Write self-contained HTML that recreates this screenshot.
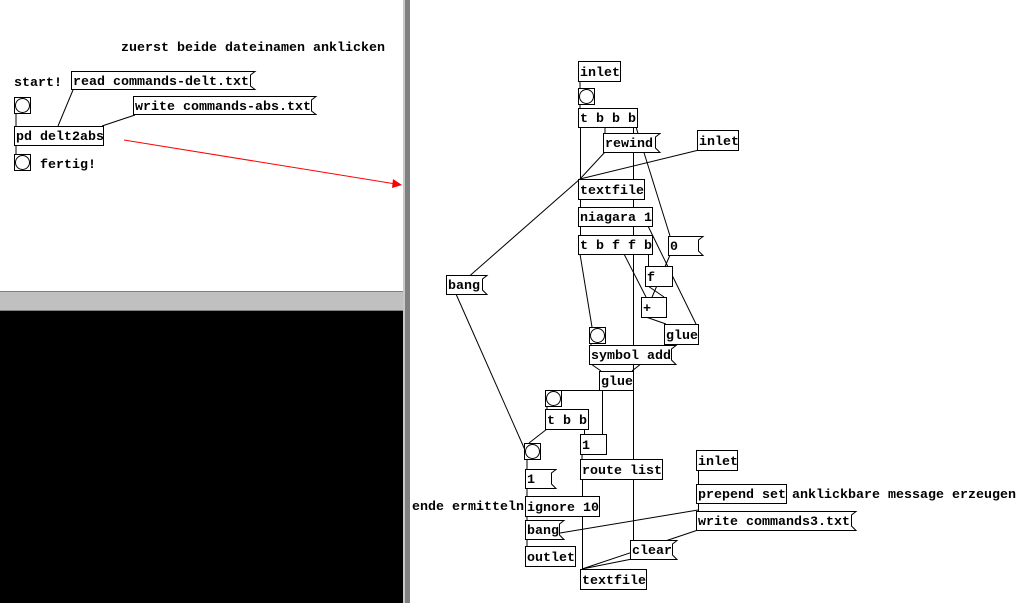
<!DOCTYPE html>
<html><head><meta charset="utf-8"><style>
html,body{margin:0;padding:0;background:#fff;}
svg{display:block;}
text{font-family:"Liberation Mono",monospace;font-weight:bold;font-size:13.33px;fill:#000;}
</style></head><body>
<svg width="1029" height="603" viewBox="0 0 1029 603" xmlns="http://www.w3.org/2000/svg">
<rect x="0" y="0" width="1029" height="603" fill="#fff"/>
<rect x="0" y="291" width="404" height="20" fill="#c0c0c0"/>
<line x1="0" y1="291.5" x2="404" y2="291.5" stroke="#808080"/>
<line x1="0" y1="310.5" x2="404" y2="310.5" stroke="#808080"/>
<rect x="0" y="311" width="404" height="292" fill="#000"/>
<rect x="403" y="0" width="2" height="603" fill="#c8c8c8"/>
<rect x="405" y="0" width="5" height="603" fill="#808080"/>

<g stroke="#000" stroke-width="1" fill="none">
<line x1="16" y1="113" x2="16" y2="126"/>
<line x1="73" y1="90" x2="58" y2="126"/>
<line x1="135" y1="115" x2="102" y2="126"/>
<line x1="16" y1="145" x2="16" y2="154"/>
<line x1="580" y1="81" x2="580" y2="88"/>
<line x1="580" y1="104" x2="580" y2="108"/>
<line x1="580.5" y1="127" x2="580.5" y2="179"/>
<line x1="605" y1="127" x2="605" y2="133"/>
<line x1="633.5" y1="127" x2="633.5" y2="540"/>
<line x1="636" y1="127" x2="670" y2="236"/>
<line x1="605" y1="152" x2="580" y2="179"/>
<line x1="699" y1="150" x2="580" y2="179"/>
<line x1="580" y1="179" x2="449" y2="294"/>
<line x1="580.5" y1="199" x2="580.5" y2="207"/>
<line x1="580.5" y1="226" x2="580.5" y2="235"/>
<line x1="648" y1="226" x2="696" y2="324"/>
<line x1="580" y1="254" x2="592" y2="327"/>
<line x1="624" y1="254" x2="646" y2="297"/>
<line x1="648.5" y1="254" x2="648.5" y2="266"/>
<line x1="670" y1="255" x2="644" y2="316"/>
<line x1="648" y1="286" x2="664" y2="297"/>
<line x1="643" y1="316" x2="666" y2="324"/>
<line x1="591" y1="343" x2="591" y2="345"/>
<line x1="666" y1="344" x2="632" y2="371"/>
<line x1="591" y1="364" x2="601" y2="371"/>
<line x1="547" y1="390.5" x2="633" y2="390.5"/>
<line x1="602.5" y1="390" x2="602.5" y2="434"/>
<line x1="547" y1="406" x2="547" y2="409"/>
<line x1="547" y1="429" x2="529" y2="443"/>
<line x1="584.5" y1="429" x2="584.5" y2="434"/>
<line x1="582" y1="454" x2="582" y2="459"/>
<line x1="582.5" y1="479" x2="582.5" y2="569"/>
<line x1="456" y1="294" x2="525" y2="450"/>
<line x1="527" y1="459" x2="527" y2="469"/>
<line x1="527" y1="488" x2="527" y2="496"/>
<line x1="527" y1="516" x2="527" y2="520"/>
<line x1="527" y1="539" x2="527" y2="546"/>
<line x1="632" y1="559" x2="582" y2="569"/>
<line x1="698" y1="530" x2="582" y2="569"/>
<line x1="698" y1="510" x2="560" y2="533"/>
<line x1="698.5" y1="470" x2="698.5" y2="484"/>
<line x1="698.5" y1="503" x2="698.5" y2="511"/>
</g>

<line x1="124" y1="140" x2="396" y2="184" stroke="#f00" stroke-width="1"/>
<polygon points="402,185 393,179 392,188" fill="#f00"/>

<g stroke="#000" stroke-width="1" fill="#fff">
<path d="M71.5,71.5 H255 L250.5,75 V86 L255,89.5 H71.5 Z"/>
<rect x="14.5" y="97.5" width="16" height="16"/><circle cx="22.5" cy="105.5" r="7"/>
<path d="M133.5,96.5 H316 L311.5,100 V111 L316,114.5 H133.5 Z"/>
<rect x="14.5" y="126.5" width="89" height="19"/>
<rect x="14.5" y="154.5" width="16" height="16"/><circle cx="22.5" cy="162.5" r="7"/>
<rect x="578.5" y="61.5" width="42" height="20"/>
<rect x="578.5" y="88.5" width="16" height="16"/><circle cx="586.5" cy="96.5" r="7"/>
<rect x="578.5" y="108.5" width="59" height="19"/>
<path d="M603.5,133.5 H660 L655.5,137 V148 L660,152.5 H603.5 Z"/>
<rect x="697.5" y="130.5" width="41" height="20"/>
<rect x="578.5" y="179.5" width="66" height="20"/>
<rect x="578.5" y="207.5" width="74" height="19"/>
<rect x="578.5" y="235.5" width="74" height="19"/>
<path d="M668.5,236.5 H703 L698.5,240 V251 L703,255.5 H668.5 Z"/>
<rect x="645.5" y="266.5" width="27" height="20"/>
<rect x="641.5" y="297.5" width="25" height="20"/>
<path d="M446.5,275.5 H487 L482.5,279 V290 L487,294.5 H446.5 Z"/>
<rect x="589.5" y="327.5" width="16" height="16"/><circle cx="597.5" cy="335.5" r="7"/>
<rect x="664.5" y="324.5" width="34" height="20"/>
<path d="M589.5,345.5 H676 L671.5,349 V360 L676,364.5 H589.5 Z"/>
<rect x="599.5" y="371.5" width="34" height="19"/>
<rect x="545.5" y="390.5" width="16" height="16"/><circle cx="553.5" cy="398.5" r="7"/>
<rect x="545.5" y="409.5" width="43" height="20"/>
<rect x="580.5" y="434.5" width="26" height="20"/>
<rect x="524.5" y="443.5" width="16" height="16"/><circle cx="532.5" cy="451.5" r="7"/>
<rect x="580.5" y="459.5" width="82" height="20"/>
<path d="M525.5,469.5 H556 L551.5,473 V484 L556,488.5 H525.5 Z"/>
<rect x="525.5" y="496.5" width="74" height="20"/>
<path d="M525.5,520.5 H564 L559.5,524 V535 L564,539.5 H525.5 Z"/>
<rect x="525.5" y="546.5" width="50" height="20"/>
<path d="M630.5,540.5 H677 L672.5,544 V555 L677,559.5 H630.5 Z"/>
<rect x="580.5" y="569.5" width="66" height="20"/>
<rect x="696.5" y="450.5" width="41" height="20"/>
<rect x="696.5" y="484.5" width="90" height="19"/>
<path d="M696.5,511.5 H856 L851.5,515 V526 L856,530.5 H696.5 Z"/>
</g>

<g>
<text x="121" y="51">zuerst beide dateinamen anklicken</text>
<text x="14" y="86">start!</text>
<text x="73" y="85">read commands-delt.txt</text>
<text x="135" y="110">write commands-abs.txt</text>
<text x="16" y="140">pd delt2abs</text>
<text x="40" y="168">fertig!</text>
<text x="580" y="76">inlet</text>
<text x="580" y="122">t b b b</text>
<text x="605" y="147">rewind</text>
<text x="699" y="145">inlet</text>
<text x="580" y="194">textfile</text>
<text x="580" y="221">niagara 1</text>
<text x="580" y="249">t b f f b</text>
<text x="670" y="250">0</text>
<text x="647" y="281">f</text>
<text x="643" y="312">+</text>
<text x="448" y="289">bang</text>
<text x="666" y="339">glue</text>
<text x="591" y="359">symbol add</text>
<text x="601" y="385">glue</text>
<text x="547" y="424">t b b</text>
<text x="582" y="449">1</text>
<text x="582" y="474">route list</text>
<text x="527" y="483">1</text>
<text x="412" y="510">ende ermitteln</text>
<text x="527" y="511">ignore 10</text>
<text x="527" y="534">bang</text>
<text x="527" y="561">outlet</text>
<text x="632" y="554">clear</text>
<text x="582" y="584">textfile</text>
<text x="698" y="465">inlet</text>
<text x="698" y="498">prepend set</text>
<text x="792" y="498">anklickbare message erzeugen</text>
<text x="698" y="525">write commands3.txt</text>
</g>
</svg>
</body></html>
